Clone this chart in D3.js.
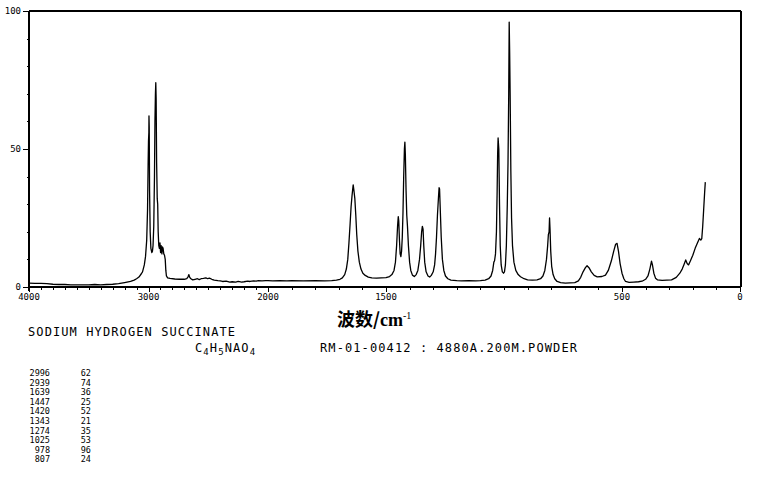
<!DOCTYPE html>
<html><head><meta charset="utf-8">
<script src="https://cdn.jsdelivr.net/npm/d3@7"></script>
<style>
html,body{margin:0;padding:0;background:#fff;}
svg{display:block;}
.mono{font-family:"DejaVu Sans Mono","Liberation Mono",monospace;fill:#000;}
</style>
</head><body>
<svg id="c" width="765" height="477"></svg>
<script>
// ---- data ----
const wavenumber = [
4000,3950,3900,3850,3800,3750,3700,3650,3600,3550,3500,3450,3400,3350,3300,3250,3200,3150,3120,3100,3080,3060,3050,3035,3025,3015,3008,3003,3000,2997,2996,2994,2991,2986,2980,2972,2967,2962,2956,2950,2946,2942,2939,2936,2932,2927,2923,2919,2914,2909,2904,2899,2894,2888,2883,2878,2872,2866,2860,2855,2850,2840,2820,2780,2740,2700,2680,2670,2662,2655,2645,2630,2610,2590,2575,2560,2540,2520,2505,2490,2470,2450,2420,2400,2380,2350,2320,2300,2270,2250,2220,2200,2170,2150,2120,2100,2080,2050,2020,2000,
1980,1950,1920,1900,1850,1800,1760,1730,1710,1695,1685,1675,1668,1662,1657,1652,1648,1644,1641,1639,1636,1632,1628,1624,1619,1613,1606,1598,1588,1575,1560,1540,1520,1500,1485,1475,1466,1460,1455,1451,1448,1446,1443,1440,1437,1434,1431,1428,1425,1422,1420,1418,1415,1412,1409,1405,1400,1395,1388,1380,1372,1365,1358,1353,1349,1346,1343,1340,1336,1330,1322,1315,1308,1300,1294,1290,1286,1282,1278,1275,1273,1270,1266,1261,1255,1248,1238,1225,1200,1180,1150,1120,1100,1080,1065,1055,1048,1043,1040,1036,1032,1029,1027,1025,1022,1019,1016,1012,1007,1002,998,994,990,986,983,980,978,976,974,971,968,964,958,950,940,930,915,900,880,860,845,835,827,820,815,812,809,807,805,802,798,792,785,775,760,740,720,700,685,675,665,655,648,640,630,618,605,585,570,558,545,535,527,521,515,508,500,492,485,470,450,430,415,400,390,382,375,371,365,358,350,330,310,290,270,255,245,238,230,224,218,210,200,190,180,172,166,162,158,154,150,147];
const intensity = [
1.4,1.3,1.3,1.2,1.0,0.9,0.9,0.8,0.8,0.8,0.8,0.9,0.8,0.9,1.0,1.2,1.6,2.0,2.5,3.0,3.6,4.8,5.5,8,11,17,28,45,53,56,62,58,35,20,14,12.5,13,15,22,40,60,70,74,68,45,32,30,20,15,14,16,12.5,15,12,14.5,14,12,11.5,10,6,4,3.3,3.1,2.9,2.8,2.8,3,3.6,4.5,3.5,3,2.6,2.8,3.0,2.7,3.0,3.1,3.3,3.0,3.2,2.8,2.5,2.3,2.2,2.0,2.1,1.8,1.9,1.8,2.0,1.8,1.9,2.1,2.0,2.2,2.1,2.3,2.2,2.3,2.3,
2.2,2.3,2.2,2.3,2.2,2.3,2.2,2.3,2.5,2.8,3.3,4.5,6.5,10,16,23,29,33,35.5,37,35,32,26,19,13,9,6.5,5,4.2,3.6,3.3,3.2,3.3,3.4,3.8,4.5,6,9,15,22,25.5,24,17,12,11,13,18,27,40,50,52.5,48,35,26,22,15,9,6,4.3,3.8,4.5,6,10,15,20,22,21,15,9,5.5,4,3.6,4.2,5.5,8,12,18,26,32,36,35.5,28,18,10,6,4,3,2.5,2.3,2.2,2.3,2.2,2.3,2.5,3.0,4,6,9,9.5,12,20,35,48,54,50,30,15,8,5.5,5,5.5,8,15,30,45,70,96,85,70,42,25,15,9,6,4.5,3.7,3.0,2.6,2.5,2.6,3,4,6,10,15,19,20,25,21,13,7.5,4.5,3,2,1.6,1.4,1.5,1.6,2.2,3.5,5.5,7,7.7,7,5.5,4.2,3.7,3.8,4.3,6,9.5,13,15.5,15.8,13,8.5,5,3,2,1.7,1.8,1.9,2.1,2.8,4,6.5,9.4,8,5,3.2,2.6,2.4,2.5,2.6,3.5,5,6.5,8,9.8,8.5,8,9.5,11.5,14,16,17.6,17,17.5,22,28,34,38];

const xTickLabels = [4000,3000,2000,1500,500,0];
const yTickLabels = [0,50,100];

const peakWavenumbers = [2996,2939,1639,1447,1420,1343,1274,1025,978,807];
const peakIntensities = [62,74,36,25,52,21,35,53,96,24];

const compoundName = "SODIUM HYDROGEN SUCCINATE";
const sampleInfo = "RM-01-00412 : 4880A.200M.POWDER";

// ---- scales ----
const svg = d3.select("#c");
const x = d3.scaleLinear().domain([4000,2000,0]).range([29,268,740]);
const y = d3.scaleLinear().domain([0,100]).range([287,11]);

const g = svg.append("g");

// frame: left axis, bottom axis, top, right
const axisStyle = l => l.attr("stroke","#000").attr("stroke-width",1.2).attr("shape-rendering","crispEdges");
axisStyle(g.append("line").attr("x1",x(4000)).attr("x2",x(4000)).attr("y1",y(100)).attr("y2",y(0)+4));
axisStyle(g.append("line").attr("x1",x(4000)).attr("x2",x(0)+1).attr("y1",y(0)).attr("y2",y(0)));
axisStyle(g.append("line").attr("x1",x(4000)).attr("x2",x(0)+1).attr("y1",y(100)).attr("y2",y(100)));
axisStyle(g.append("line").attr("x1",x(0)+1).attr("x2",x(0)+1).attr("y1",y(100)).attr("y2",y(0)));

// x ticks every 100
const xMinor = d3.range(4000,-1,-100);
g.selectAll(".xt").data(xMinor).join("line")
  .attr("x1",d=>Math.round(x(d))+0.5).attr("x2",d=>Math.round(x(d))+0.5)
  .attr("y1",y(0)).attr("y2",d=>y(0)+(xTickLabels.includes(d)?5:3))
  .attr("stroke","#000").attr("stroke-width",1);
g.selectAll(".xl").data(xTickLabels).join("text")
  .attr("class","mono")
  .attr("x",d=>x(d)).attr("y",y(0)+13)
  .attr("text-anchor","middle").attr("font-size",9)
  .text(d=>d);

// y ticks every 10
const yMinor = d3.range(0,101,10);
g.selectAll(".yt").data(yMinor).join("line")
  .attr("x1",d=>x(4000)-(yTickLabels.includes(d)?6:2)).attr("x2",x(4000))
  .attr("y1",d=>Math.round(y(d))+0.5).attr("y2",d=>Math.round(y(d))+0.5)
  .attr("stroke","#000").attr("stroke-width",1);
g.selectAll(".yl").data(yTickLabels).join("text")
  .attr("class","mono")
  .attr("x",x(4000)-8).attr("y",d=>y(d)+3)
  .attr("text-anchor","end").attr("font-size",9)
  .text(d=>d);

// spectrum
const pts = wavenumber.map((w,i)=>[w,intensity[i]]);
g.append("path").datum(pts)
  .attr("fill","none").attr("stroke","#000").attr("stroke-width",1.3)
  .attr("stroke-linejoin","round")
  .attr("d",d3.line().x(d=>x(d[0])).y(d=>y(d[1])));

// axis title
const t = svg.append("text").attr("x",337).attr("y",326).attr("font-size",18).attr("fill","#000");
t.append("tspan").attr("font-family","'Noto Sans CJK SC'").attr("font-weight","bold").text("波数/");
t.append("tspan").attr("font-family","'Liberation Serif'").attr("font-weight","bold").text("cm");
t.append("tspan").attr("font-family","'Liberation Serif'").attr("font-size",10).attr("dy",-7).text("-1");

// compound name and info
svg.append("text").attr("class","mono").attr("x",28).attr("y",336).attr("font-size",12)
  .attr("letter-spacing",1.1).text(compoundName);
const f = svg.append("text").attr("class","mono").attr("x",195).attr("y",352).attr("font-size",12)
  .attr("letter-spacing",1.1);
[["C",0],["4",1],["H",0],["5",1],["NAO",0],["4",1]].forEach(([s,sub],i,arr)=>{
  const prevSub = i>0 ? arr[i-1][1] : 0;
  f.append("tspan").attr("font-size",sub?9:12).attr("dy",(sub-prevSub)*3).text(s);
});
svg.append("text").attr("class","mono").attr("x",320).attr("y",352).attr("font-size",12)
  .attr("letter-spacing",1.1).text(sampleInfo);

// peak table
const rows = svg.append("g");
peakWavenumbers.forEach((w,i)=>{
  rows.append("text").attr("class","mono").attr("x",50).attr("y",376+i*9.6)
    .attr("text-anchor","end").attr("font-size",8.5).text(w);
  rows.append("text").attr("class","mono").attr("x",91).attr("y",376+i*9.6)
    .attr("text-anchor","end").attr("font-size",8.5).text(peakIntensities[i]);
});
</script>
</body></html>
